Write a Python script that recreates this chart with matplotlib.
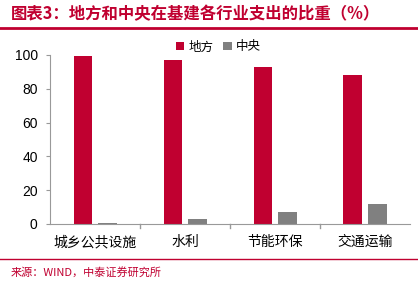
import matplotlib.pyplot as plt
import numpy as np

plt.rcParams['font.family'] = ['Noto Sans CJK SC', 'DejaVu Sans']
plt.rcParams['axes.unicode_minus'] = False

categories = ['城乡公共设施', '水利', '节能环保', '交通运输']
local_share = [99.3, 97.0, 93.0, 88.3]
central_share = [0.7, 3.0, 7.0, 11.7]
y_ticks = [0, 20, 40, 60, 80, 100]

red = '#C00030'
grey = '#808080'

fig = plt.figure(figsize=(4.18, 2.86), dpi=100)
ax = fig.add_axes([0.12, 0.217, 0.861, 0.591])

x = np.arange(len(categories))
w = 0.21
ax.bar(x - 0.135, local_share, w, color=red, label='地方')
ax.bar(x + 0.135, central_share, w, color=grey, label='中央')

ax.set_xlim(-0.5, len(categories) - 0.5)
ax.set_ylim(0, 100)
ax.set_yticks(y_ticks)
ax.set_yticklabels([str(v) for v in y_ticks], fontsize=10, family='Liberation Sans')

# 分类标签放在刻度之间，刻度线画在分类边界
ax.set_xticks(x)
ax.set_xticklabels(categories, fontsize=10)
ax.tick_params(axis='x', length=0, pad=8)
for b in np.arange(0.5, len(categories) - 0.5, 1):
    ax.plot([b, b], [0, -2.5], color='#999999', lw=1, clip_on=False)

ax.tick_params(axis='y', length=3, color='#999999', pad=6)
ax.spines['right'].set_color('none')
ax.spines['top'].set_color('none')
ax.spines['left'].set_color('#999999')
ax.spines['bottom'].set_color('#999999')

ax.legend(loc='center', bbox_to_anchor=(0.467, 1.047), ncol=2, frameon=False,
          fontsize=9, handlelength=0.7, handleheight=0.7, handletextpad=0.3,
          columnspacing=0.8)

fig.text(0.025, 0.952, '图表3：地方和中央在基建各行业支出的比重（%）', color=red,
         fontsize=11.8, fontweight='bold', style='italic', va='center', ha='left')
fig.add_artist(plt.Line2D([0, 1], [0.902, 0.902], color=red, lw=2))
fig.add_artist(plt.Line2D([0, 1], [0.094, 0.094], color=red, lw=1))
fig.text(0.025, 0.049, '来源：WIND，中泰证券研究所', color=red, fontsize=8,
         va='center', ha='left')

fig.savefig('out.png', dpi=100)
